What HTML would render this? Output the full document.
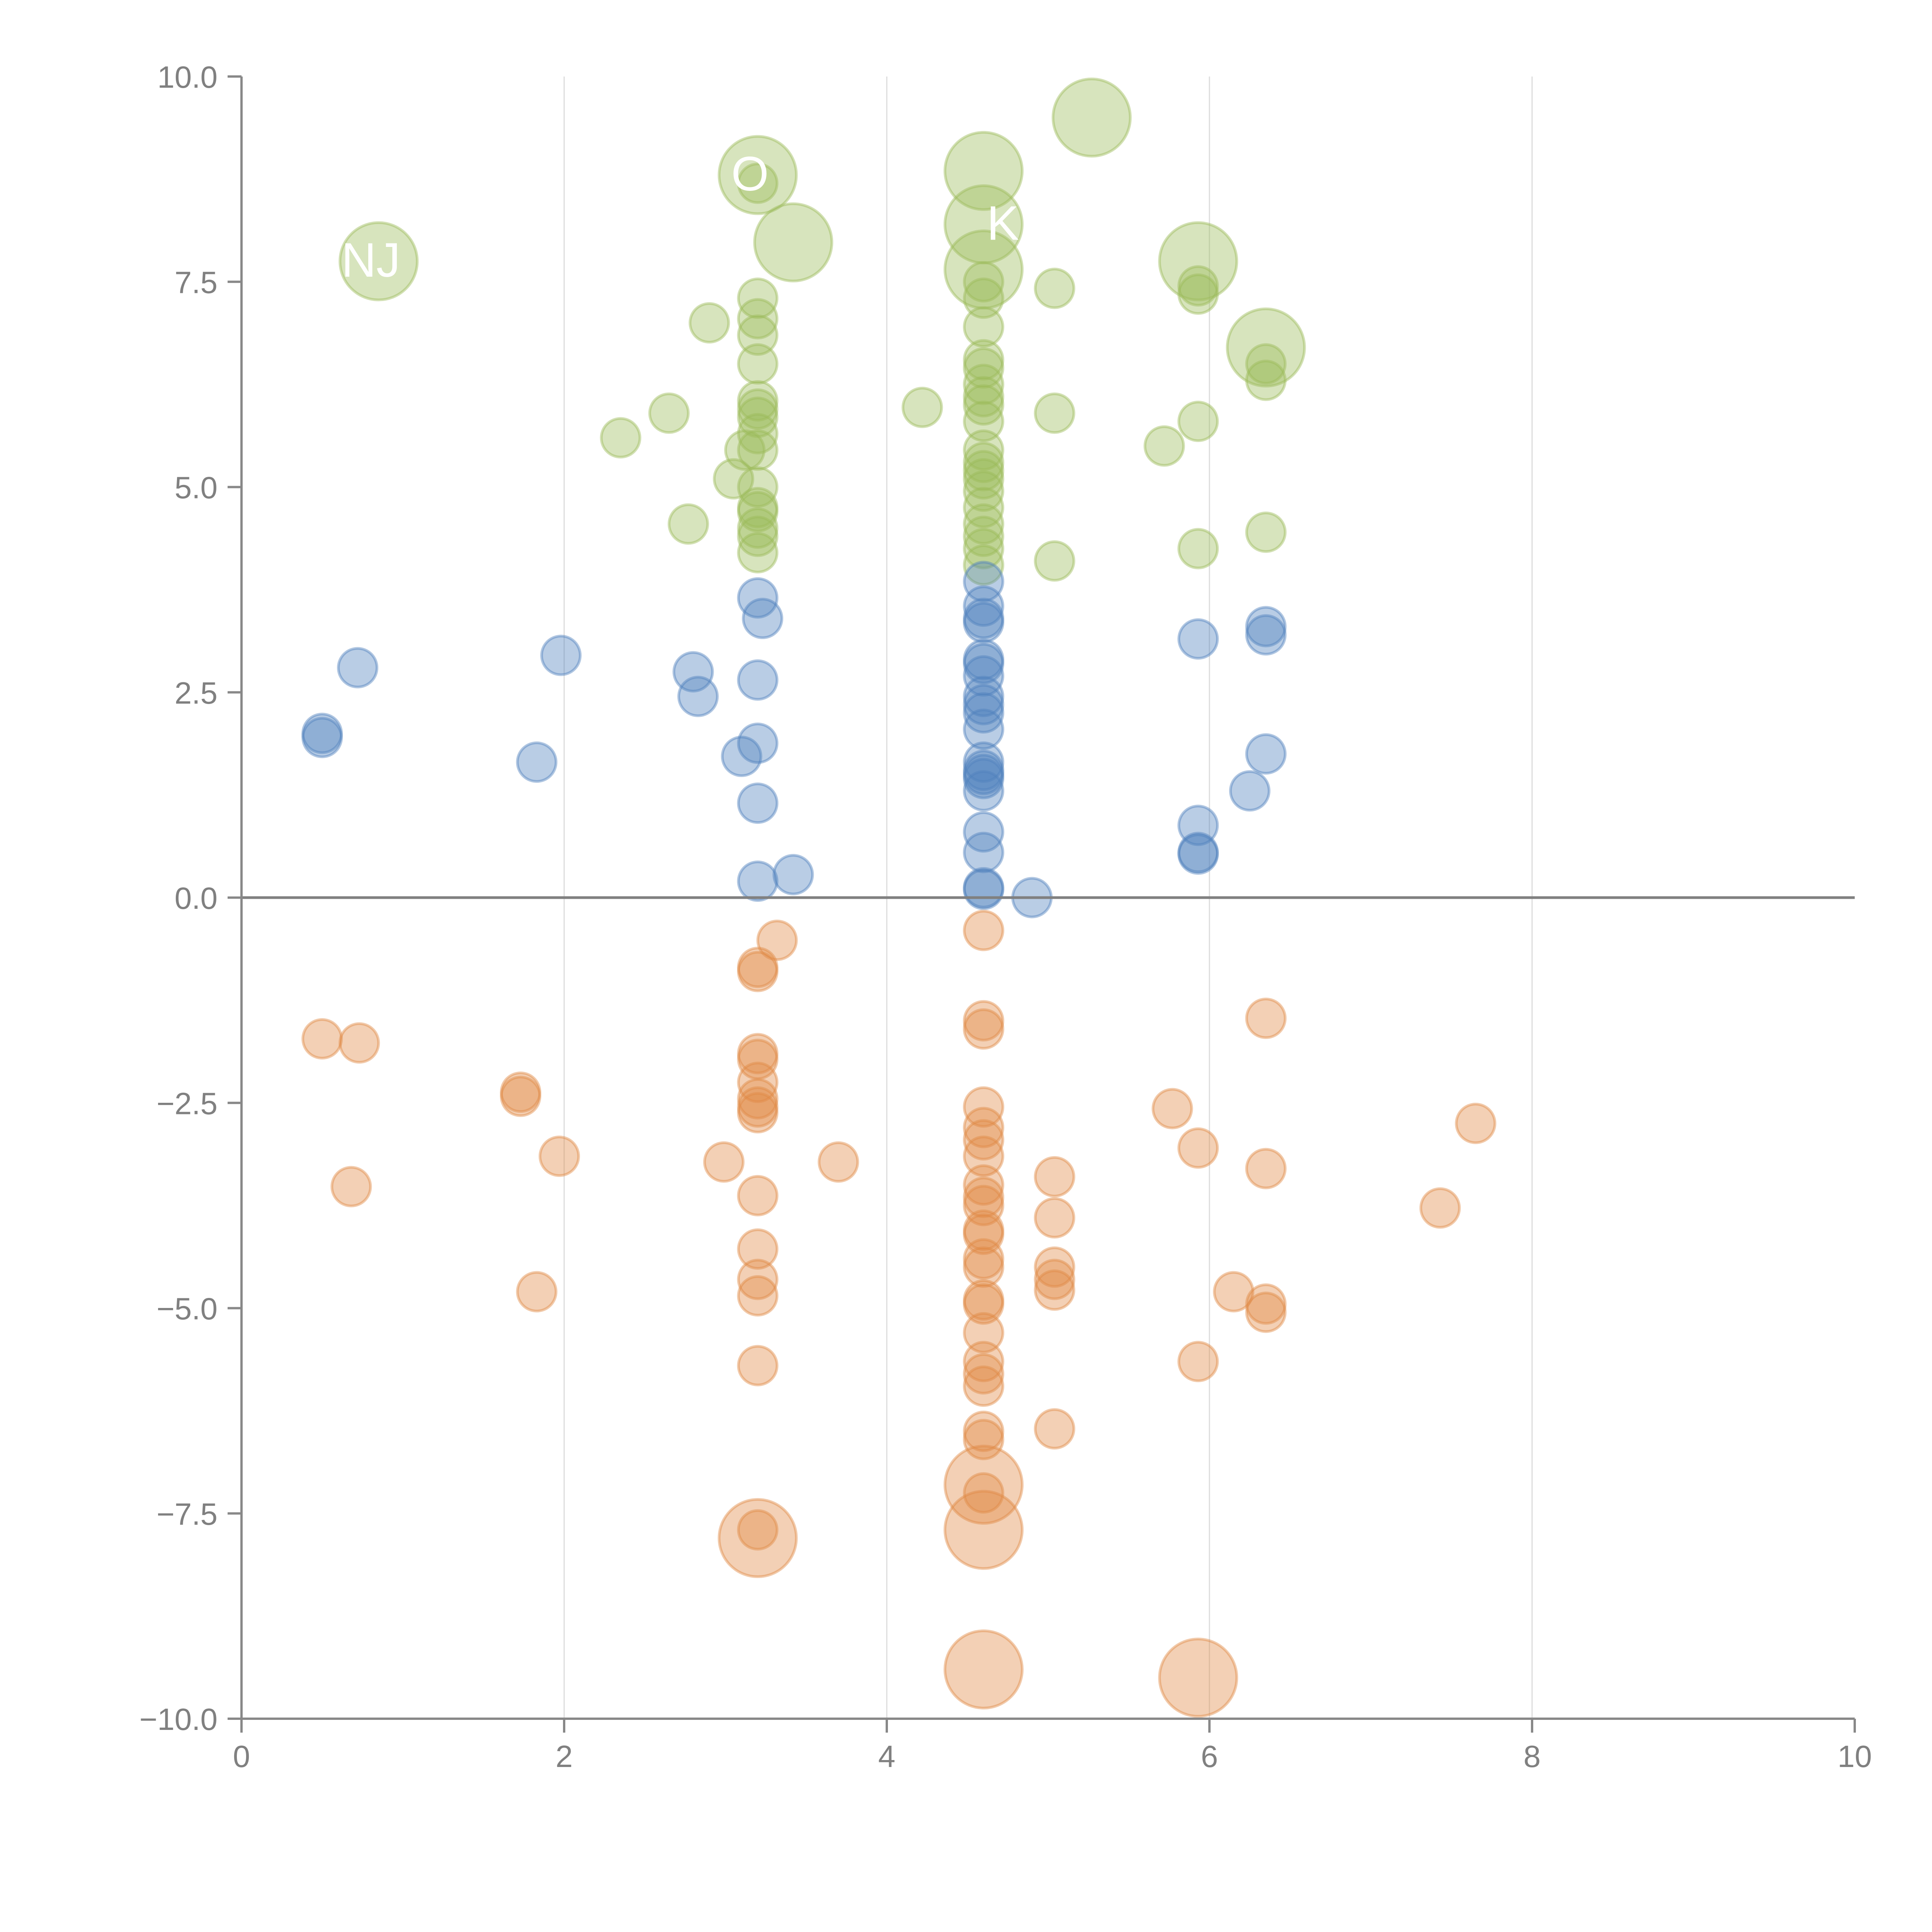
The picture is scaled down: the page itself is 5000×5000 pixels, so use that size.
<!DOCTYPE html>
<html><head><meta charset="utf-8">
<style>
html,body{margin:0;padding:0;background:#fff;}
svg{display:block;font-family:"Liberation Sans",Arial,sans-serif;}
</style></head>
<body>
<svg id="chart" width="5000" height="5000" viewBox="0 0 5000 5000" xmlns="http://www.w3.org/2000/svg">
<rect width="5000" height="5000" fill="#fff"/>
<g id="grid"></g>
<g id="marks"></g>
<g id="axes"></g>
</svg>
<script>
const xTicks = [0, 2, 4, 6, 8, 10];
const yTicks = [10, 7.5, 5, 2.5, 0, -2.5, -5, -7.5, -10];
const yTickLabels = ["10.0", "7.5", "5.0", "2.5", "0.0", "\u22122.5", "\u22125.0", "\u22127.5", "\u221210.0"];

const greenX = [0.85,3.2,3.42,4.6,4.6,4.6,5.27,5.93,6.35,3.2,
  2.9,2.65,2.35,2.77,3.05,3.12,
  3.2,3.2,3.2,3.2,3.2,3.2,3.2,3.2,3.2,3.2,3.2,3.2,3.2,3.2,3.2,
  4.22,
  4.6,4.6,4.6,4.6,4.6,4.6,4.6,4.6,4.6,4.6,4.6,4.6,4.6,4.6,4.6,4.6,4.6,4.6,4.6,
  5.04,5.04,5.04,5.72,5.93,5.93,5.93,5.93,6.35,6.35,6.35];
const greenY = [7.75,8.8,7.98,8.85,8.2,7.65,9.5,7.75,6.7,8.7,
  7.0,5.9,5.6,4.55,5.1,5.45,
  7.3,7.05,6.85,6.5,6.05,5.95,5.85,5.65,5.45,5.0,4.75,4.7,4.5,4.4,4.2,
  5.97,
  7.5,7.3,6.95,6.55,6.45,6.25,6.1,6.0,5.8,5.45,5.3,5.2,5.1,4.95,4.75,4.55,4.4,4.25,4.05,
  7.42,5.9,4.1,5.5,7.45,7.35,5.8,4.25,6.5,6.3,4.45];
const greenSize = [4,4,4,4,4,4,4,4,4,1];

const blueX = [0.5,0.5,0.72,1.83,1.98,2.8,2.83,3.1,3.2,3.23,3.2,3.2,3.2,3.2,3.42,
  4.6,4.6,4.6,4.6,4.6,4.6,4.6,4.6,4.6,4.6,4.6,4.6,4.6,4.6,4.6,4.6,4.6,4.6,4.6,4.6,
  4.9,5.93,5.93,5.93,5.93,6.25,6.35,6.35,6.35];
const blueY = [2.0,1.95,2.8,1.65,2.95,2.75,2.45,1.72,3.65,3.4,2.65,1.88,1.15,0.2,0.28,
  3.85,3.55,3.4,3.35,2.9,2.85,2.7,2.45,2.35,2.25,2.05,1.65,1.55,1.5,1.45,1.3,0.8,0.55,0.12,0.1,
  0.0,3.15,0.88,0.55,0.53,1.3,3.3,3.2,1.75];

const orangeX = [3.2,4.6,4.6,4.6,5.93,
  0.5,0.73,0.68,1.73,1.73,1.83,1.97,2.99,3.32,
  3.2,3.2,3.2,3.2,3.2,3.2,3.2,3.2,3.2,3.2,3.2,3.2,3.2,3.2,
  3.7,
  4.6,4.6,4.6,4.6,4.6,4.6,4.6,4.6,4.6,4.6,4.6,4.6,4.6,4.6,4.6,4.6,4.6,4.6,4.6,4.6,4.6,4.6,4.6,
  5.04,5.04,5.04,5.04,5.04,5.04,5.77,5.93,5.93,6.15,6.35,6.35,6.35,6.35,7.43,7.65];
const orangeY = [-7.8,-7.15,-7.7,-9.4,-9.5,
  -1.72,-1.77,-3.52,-2.37,-2.42,-4.8,-3.15,-3.22,-0.52,
  -0.85,-0.9,-1.9,-1.97,-2.25,-2.45,-2.55,-2.62,-3.63,-4.28,-4.65,-4.85,-5.7,-7.7,
  -3.22,
  -0.4,-1.5,-1.6,-2.55,-2.8,-2.95,-3.15,-3.5,-3.65,-3.75,-4.05,-4.1,-4.4,-4.5,-4.9,-4.95,-5.3,-5.65,-5.8,-5.95,-6.5,-6.6,-7.25,
  -3.4,-3.9,-4.5,-4.65,-4.78,-6.47,-2.57,-3.05,-5.65,-4.8,-1.47,-3.3,-4.95,-5.05,-3.78,-2.75];
const orangeSize = [4,4,4,4,4];

const NS = "http://www.w3.org/2000/svg";
const X0 = 625, X1 = 4800, Y0 = 198, Y1 = 4448;
function xs(v){ return X0 + (v - 0) / 10 * (X1 - X0); }
function ys(v){ return Y1 - (v + 10) / 20 * (Y1 - Y0); }
function rs(s){ return 50 * Math.sqrt(s); }
function mk(tag, attrs, parent){
  const e = document.createElementNS(NS, tag);
  for (const k in attrs) e.setAttribute(k, attrs[k]);
  parent.appendChild(e);
  return e;
}
const grid = document.getElementById('grid');
const marks = document.getElementById('marks');
const axes = document.getElementById('axes');

xTicks.forEach(function(t){
  if (t === 0 || t === 10) return;
  const l = mk('line', {x1: xs(t), x2: xs(t), y1: Y0, y2: Y1, stroke: '#dcdcdc', 'stroke-width': 3}, grid);
  
  
});

function series(xArr, yArr, sizes, color, name){
  const g = mk('g', {}, marks);
  
  
  for (let i = 0; i < xArr.length; i++){
    const s = (sizes[i] !== undefined) ? sizes[i] : 1;
    const c = mk('circle', {cx: xs(xArr[i]), cy: ys(yArr[i]), r: rs(s), fill: color, 'fill-opacity': 0.4, stroke: color, 'stroke-opacity': 0.45, 'stroke-width': 7}, g);
    
    
  }
}
series(greenX, greenY, greenSize, '#9bbb59', 'green');
series(blueX, blueY, [], '#4f81bd', 'blue');
series(orangeX, orangeY, orangeSize, '#e08a45', 'orange');

[["NJ",0.85,7.75],["O",3.2,8.8],["K",4.6,8.2]].forEach(function(d){
  const t = mk('text', {x: xs(d[1]) + (d[0]==="K"?50:-20), y: ys(d[2]) + 40, fill: '#fff', 'font-size': 125, 'text-anchor': 'middle'}, marks);
  t.textContent = d[0];
  
  
});

const zl = mk('line', {x1: X0, x2: X1, y1: ys(0), y2: ys(0), stroke: '#808080', 'stroke-width': 7}, axes);



const ya = mk('line', {x1: X0, x2: X0, y1: Y0, y2: Y1, stroke: '#888', 'stroke-width': 6}, axes);


const xa = mk('line', {x1: X0, x2: X1, y1: Y1, y2: Y1, stroke: '#888', 'stroke-width': 6}, axes);



yTicks.forEach(function(t, i){
  const tk = mk('line', {x1: X0 - 36, x2: X0, y1: ys(t), y2: ys(t), stroke: '#888', 'stroke-width': 6}, axes);
  
  
  const lb = mk('text', {x: X0 - 62, y: ys(t) + 29, fill: '#808080', 'font-size': 80, 'text-anchor': 'end'}, axes);
  lb.textContent = yTickLabels[i];
  
  
});
xTicks.forEach(function(t){
  const tk = mk('line', {x1: xs(t), x2: xs(t), y1: Y1, y2: Y1 + 36, stroke: '#888', 'stroke-width': 6}, axes);
  
  
  const lb = mk('text', {x: xs(t), y: Y1 + 125, fill: '#808080', 'font-size': 80, 'text-anchor': 'middle'}, axes);
  lb.textContent = String(t);
  
  
});
</script>
</body></html>
